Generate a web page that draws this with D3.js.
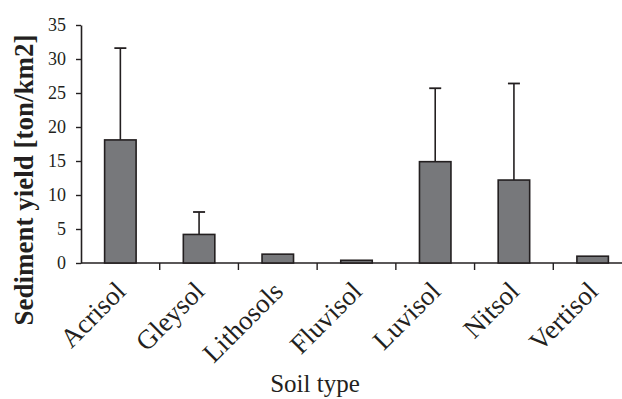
<!DOCTYPE html>
<html>
<head>
<meta charset="utf-8">
<script src="https://cdn.jsdelivr.net/npm/d3@7"></script>
<style>
  body { margin: 0; background: #fff; }
  text { font-family: "Liberation Serif", "Times New Roman", serif; fill: #231f20; }
</style>
</head>
<body>
<svg id="canvas" width="622" height="399"></svg>
<script>
// donnees
let sols = ['Acrisol', 'Gleysol', 'Lithosols', 'Fluvisol', 'Luvisol', 'Nitsol', 'Vertisol']
let moyennes = [18.1, 4.2, 1.3, 0.4, 14.9, 12.2, 1.0]
let ecarts = [13.5, 3.3, 0, 0, 10.8, 14.2, 0]
let graduations = [0, 5, 10, 15, 20, 25, 30, 35]

let canvas = d3.select('#canvas')
let encre = '#231f20'

// echelles
let x = d3.scaleBand().domain(sols).range([81, 632]).padding(0)
let y = d3.scaleLinear().domain([0, 35]).range([263, 25])
let largeur = x.bandwidth() * 0.4

// axe Y
let axeY = canvas.append('g')
  .attr('transform', 'translate(81,0)')
  .call(d3.axisLeft(y).tickValues(graduations).tickSize(5).tickPadding(10).tickSizeOuter(0))
axeY.select('.domain').attr('stroke', encre).attr('stroke-width', 1.6)
axeY.selectAll('.tick line').attr('stroke', encre).attr('stroke-width', 1.4)
axeY.selectAll('.tick text')
  .attr('font-size', 18)
  .attr('font-family', '"Liberation Serif", serif')
  .attr('fill', encre)

// axe X : ligne + graduations aux limites des classes
canvas.append('line')
  .attr('x1', x.range()[0]).attr('x2', x.range()[1])
  .attr('y1', y(0)).attr('y2', y(0))
  .attr('stroke', encre).attr('stroke-width', 1.6)

canvas.selectAll('.graduationX')
  .data(sols.slice(1))
  .enter()
  .append('line')
  .attr('class', 'graduationX')
  .attr('x1', d => x(d)).attr('x2', d => x(d))
  .attr('y1', y(0)).attr('y2', y(0) + 7)
  .attr('stroke', encre).attr('stroke-width', 1.4)

// barres d'erreur (vers le haut seulement)
let erreurs = sols.map((s, i) => ({ sol: s, m: moyennes[i], e: ecarts[i] })).filter(d => d.e > 0)
canvas.selectAll('.erreur')
  .data(erreurs)
  .enter()
  .append('line')
  .attr('class', 'erreur')
  .attr('x1', d => x(d.sol) + x.bandwidth() / 2)
  .attr('x2', d => x(d.sol) + x.bandwidth() / 2)
  .attr('y1', d => y(d.m))
  .attr('y2', d => y(d.m + d.e))
  .attr('stroke', encre).attr('stroke-width', 1.6)

canvas.selectAll('.chapeau')
  .data(erreurs)
  .enter()
  .append('line')
  .attr('class', 'chapeau')
  .attr('x1', d => x(d.sol) + x.bandwidth() / 2 - 6)
  .attr('x2', d => x(d.sol) + x.bandwidth() / 2 + 6)
  .attr('y1', d => y(d.m + d.e))
  .attr('y2', d => y(d.m + d.e))
  .attr('stroke', encre).attr('stroke-width', 1.8)

// barres
canvas.selectAll('.barre')
  .data(sols)
  .enter()
  .append('rect')
  .attr('class', 'barre')
  .attr('x', d => x(d) + (x.bandwidth() - largeur) / 2)
  .attr('width', largeur)
  .attr('y', (d, i) => y(moyennes[i]))
  .attr('height', (d, i) => y(0) - y(moyennes[i]))
  .attr('fill', '#77787b')
  .attr('stroke', encre)
  .attr('stroke-width', 1.6)

// etiquettes des sols, tournees a -45 degres
let etiquettes = canvas.selectAll('.etiquette')
  .data(sols)
  .enter()
  .append('g')
  .attr('class', 'etiquette')
  .attr('transform', d => `translate(${x(d) + x.bandwidth() / 2 + 7},293)`)

etiquettes.append('text')
  .attr('transform', 'rotate(-45)')
  .style('text-anchor', 'end')
  .attr('font-size', 27)
  .text(d => d)

// titres des axes
canvas.append('text')
  .attr('transform', 'translate(33,180) rotate(-90)')
  .attr('text-anchor', 'middle')
  .attr('font-size', 27)
  .attr('font-weight', 'bold')
  .text('Sediment yield [ton/km2]')

canvas.append('text')
  .attr('x', 315)
  .attr('y', 392)
  .attr('text-anchor', 'middle')
  .attr('font-size', 25)
  .text('Soil type')
</script>
</body>
</html>
